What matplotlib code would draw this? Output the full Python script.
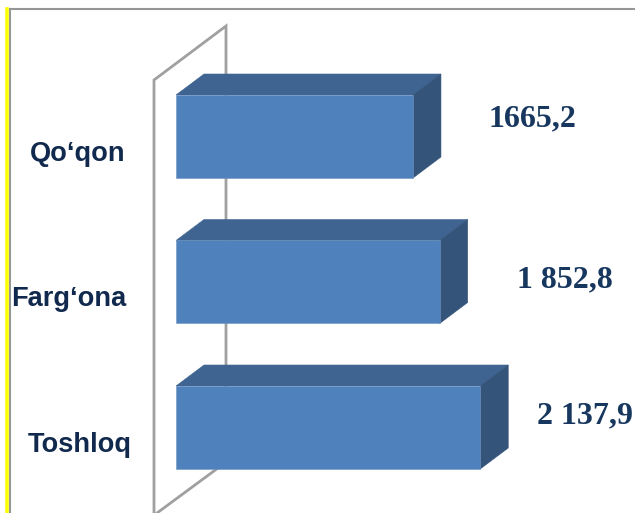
import matplotlib
matplotlib.use('Agg')
import matplotlib.pyplot as plt
from matplotlib.patches import Polygon

categories = ['Qo\u2018qon', 'Farg\u2018ona', 'Toshloq']
values = [1665.2, 1852.8, 2137.9]
value_labels = ['1665,2', '1 852,8', '2 137,9']

W, H = 635, 513
PX_PER_UNIT = 0.1423   # pixels per value unit
BAR_LEFT = 176
ROW_TOP = 136.5
ROW_STEP = 145.5
BAR_H = 83 / ROW_STEP
DX = 28 / PX_PER_UNIT
DY = 21 / ROW_STEP

fig = plt.figure(figsize=(W / 100, H / 100), dpi=100)

# overlay in pixel coords for frame and the 3d wall
bg = fig.add_axes([0, 0, 1, 1])
bg.set_xlim(0, W)
bg.set_ylim(H, 0)
bg.axis('off')

bg.plot([9.5, 9.5, W], [H, 8.5, 8.5], color='#969696', lw=1.5, solid_joinstyle='miter')
bg.plot([6.5, 6.5], [9, H], color='#ffff00', lw=2.6)
wall_x = [218, 157, 154, 154, 226, 226]
wall_y = [468, 513, 513, 80, 26, 400]
bg.plot(wall_x[:2], wall_y[:2], color='#a0a0a0', lw=2)
bg.plot(wall_x[2:], wall_y[2:], color='#a0a0a0', lw=2, solid_joinstyle='miter')

# bars in value units
ax = fig.add_axes([0, 0, 1, 1])
ax.patch.set_alpha(0)
ax.set_xlim(-BAR_LEFT / PX_PER_UNIT, (W - BAR_LEFT) / PX_PER_UNIT)
ax.set_ylim((H - ROW_TOP) / ROW_STEP, -ROW_TOP / ROW_STEP)
ax.axis('off')

edge = '#6f93c0'
for i, v in enumerate(values):
    top, bot = i - BAR_H / 2, i + BAR_H / 2
    ax.add_patch(Polygon([(0, top), (DX, top - DY), (v + DX, top - DY), (v, top)],
                         facecolor='#3f6491', edgecolor='#3f6491', lw=0.4))
    ax.add_patch(Polygon([(v, top), (v + DX, top - DY), (v + DX, bot - DY), (v, bot)],
                         facecolor='#345479', edgecolor='#345479', lw=0.4))
    ax.add_patch(Polygon([(0, top), (v, top), (v, bot), (0, bot)],
                         facecolor='#4f81bd', edgecolor=edge, lw=0.4))

cat_x = [78, 68.5, 79.5]
cat_y = [153.5, 299.5, 445.5]
for name, x, y in zip(categories, cat_x, cat_y):
    fig.text(x / W, 1 - y / H, name, family='Liberation Sans', fontweight='bold',
             fontsize=19.6, color='#10294d', ha='center', va='center')

val_x = [532.5, 564.5, 585]
val_y = [118.5, 279.5, 415.5]
for lab, x, y in zip(value_labels, val_x, val_y):
    fig.text(x / W, 1 - y / H, lab, family='Liberation Serif', fontweight='bold',
             fontsize=23, color='#17375e', ha='center', va='center')

fig.savefig('out.png', dpi=100)
